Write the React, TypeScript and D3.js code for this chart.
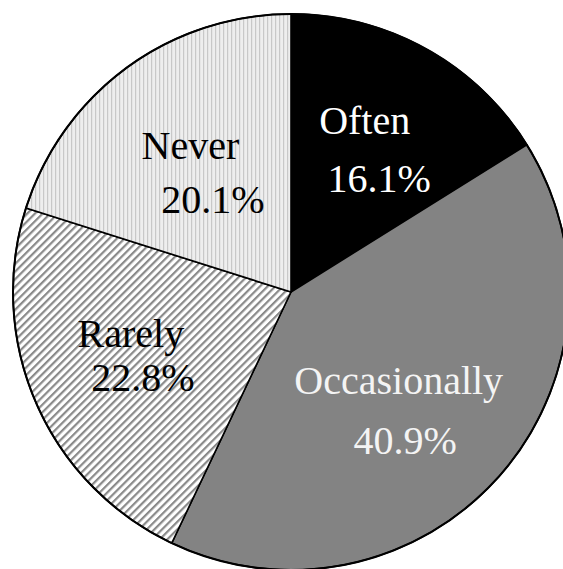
import React, { useEffect, useRef } from "react"
import * as d3 from "d3"

const categories = ["Often", "Occasionally", "Rarely", "Never"]
const percents = [16.1, 40.9, 22.8, 20.1]
const labels = ["16.1%", "40.9%", "22.8%", "20.1%"]

// [name line, percent line] nudges from the label centroid
const labelNudge = [
  [[-1.5, -22], [13, 36]],
  [[-8, -1], [-1.5, 59]],
  [[-18, -7], [-6, 37]],
  [[-9, -8], [13.5, 46]],
]

const Chart = () => {
  const chart = useRef<HTMLDivElement>(null)

  const drawChart = () => {
    const svgWidth = 563
    const svgHeight = 569
    const radius = 278
    const cx = 291
    const cy = 292

    d3.select(chart.current).selectAll("*").remove()

    const svg = d3
      .select(chart.current)
      .append("svg")
      .attr("width", svgWidth)
      .attr("height", svgHeight)
      .style("display", "block")
      .style("background", "#fff")

    const defs = svg.append("defs")

    // diagonal hatch for Rarely
    const hatch = defs
      .append("pattern")
      .attr("id", "hatch")
      .attr("patternUnits", "userSpaceOnUse")
      .attr("width", 5.4)
      .attr("height", 5.4)
      .attr("patternTransform", "rotate(45)")
    hatch.append("rect").attr("width", 5.4).attr("height", 5.4).attr("fill", "#fff")
    hatch.append("rect").attr("width", 2.2).attr("height", 5.4).attr("fill", "#8a8a8a")

    // fine vertical stripes for Never
    const vstripe = defs
      .append("pattern")
      .attr("id", "vstripe")
      .attr("patternUnits", "userSpaceOnUse")
      .attr("width", 4)
      .attr("height", 4)
    vstripe.append("rect").attr("width", 4).attr("height", 4).attr("fill", "#eeeeee")
    vstripe.append("rect").attr("width", 1.2).attr("height", 4).attr("fill", "#c8c8c8")

    const fills = ["#000000", "#838383", "url(#hatch)", "url(#vstripe)"]
    const textColors = ["#ffffff", "#f4f4f4", "#000000", "#000000"]

    const pie = d3
      .pie<number>()
      .sort(null)
      .value((d) => d)
    const arcs = pie(percents)

    const arc = d3.arc<d3.PieArcDatum<number>>().innerRadius(0).outerRadius(radius)
    const labelArc = d3.arc<d3.PieArcDatum<number>>().innerRadius(155).outerRadius(155)

    const g = svg.append("g").attr("transform", `translate(${cx},${cy})`)

    g.selectAll("path")
      .data(arcs)
      .enter()
      .append("path")
      .attr("d", arc)
      .attr("fill", (d, i) => fills[i])
      .attr("stroke", "#000")
      .attr("stroke-width", 1.6)
      .attr("stroke-linejoin", "round")

    g.append("circle")
      .attr("r", radius)
      .attr("fill", "none")
      .attr("stroke", "#000")
      .attr("stroke-width", 2)

    arcs.forEach((d, i) => {
      const [x, y] = labelArc.centroid(d)
      const lines = [categories[i], labels[i]]
      lines.forEach((t, j) => {
        const [dx, dy] = labelNudge[i][j]
        g.append("text")
          .attr("x", x + dx)
          .attr("y", y + dy)
          .attr("text-anchor", "middle")
          .style("font-family", "'Liberation Serif', Tinos, 'DejaVu Serif', serif")
          .style("font-size", "40px")
          .attr("fill", textColors[i])
          .text(t)
      })
    })
  }

  useEffect(() => {
    drawChart()
  })

  return <div ref={chart} style={{ position: "absolute", left: 0, top: 0 }} />
}

export default function App() {
  return <Chart />
}
